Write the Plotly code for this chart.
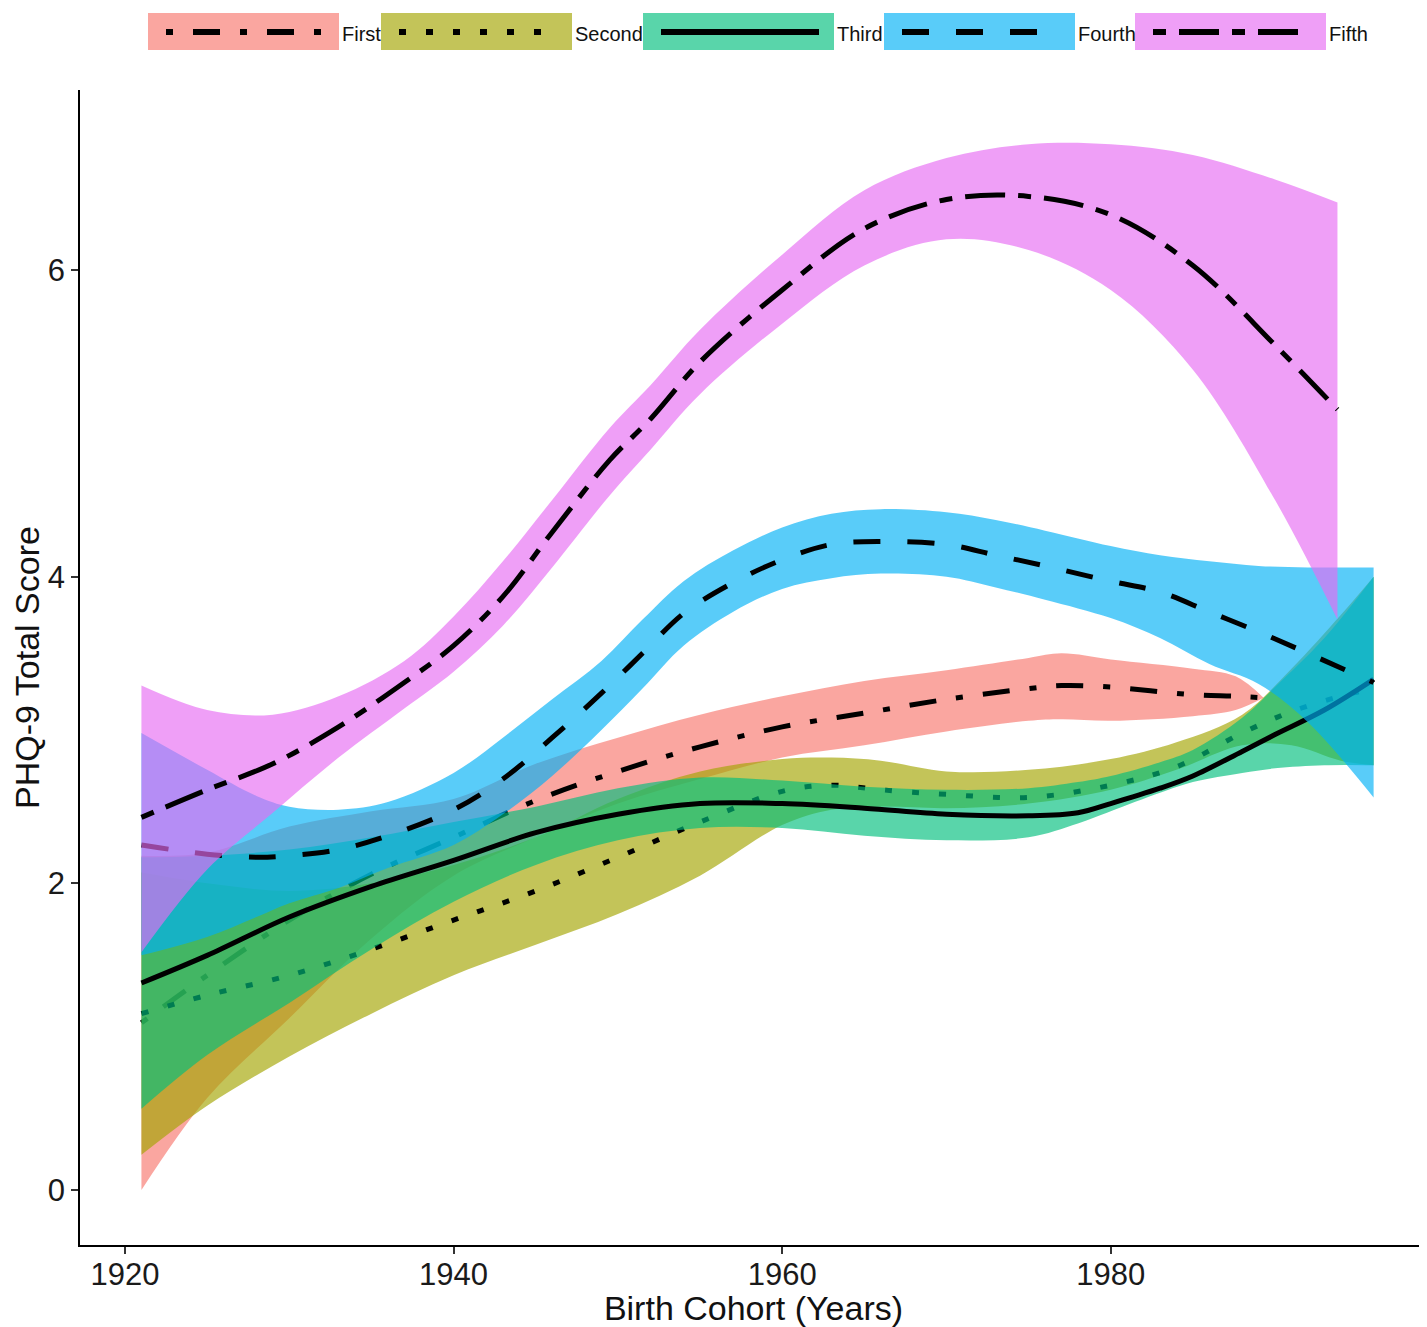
import plotly.graph_objects as go

# ---------------- data ----------------
first_years = [1921, 1925, 1930, 1935, 1940, 1945, 1950, 1955, 1960, 1965, 1970, 1975, 1977, 1980, 1985, 1987.6, 1989.3]
first_fit   = [1.09, 1.40, 1.76, 2.06, 2.30, 2.54, 2.73, 2.89, 3.02, 3.11, 3.20, 3.27, 3.29, 3.28, 3.23, 3.22, 3.21]
first_hi    = [2.18, 2.20, 2.37, 2.47, 2.55, 2.78, 2.95, 3.10, 3.22, 3.32, 3.39, 3.47, 3.50, 3.46, 3.40, 3.35, 3.21]
first_lo    = [0.00, 0.60, 1.12, 1.64, 2.05, 2.30, 2.52, 2.68, 2.82, 2.90, 2.99, 3.06, 3.07, 3.06, 3.09, 3.13, 3.21]

second_years = [1921, 1925, 1930, 1935, 1940, 1945, 1950, 1955, 1960, 1963, 1966, 1970, 1975, 1980, 1984, 1988, 1991, 1994, 1996]
second_fit   = [1.15, 1.27, 1.40, 1.57, 1.76, 1.95, 2.17, 2.40, 2.60, 2.64, 2.61, 2.58, 2.56, 2.64, 2.76, 2.98, 3.12, 3.22, 3.27]
second_hi    = [2.07, 2.00, 1.95, 2.00, 2.12, 2.30, 2.55, 2.73, 2.81, 2.82, 2.80, 2.73, 2.74, 2.81, 2.92, 3.10, 3.40, 3.75, 4.00]
second_lo    = [0.23, 0.55, 0.87, 1.15, 1.40, 1.60, 1.80, 2.05, 2.38, 2.48, 2.50, 2.49, 2.52, 2.61, 2.74, 2.90, 2.90, 2.80, 2.77]

third_years = [1921, 1925, 1930, 1935, 1940, 1945, 1950, 1955, 1960, 1965, 1970, 1975, 1978, 1980, 1983, 1985, 1988, 1990, 1993, 1996]
third_fit   = [1.35, 1.53, 1.78, 1.98, 2.15, 2.33, 2.45, 2.52, 2.52, 2.49, 2.45, 2.44, 2.46, 2.52, 2.62, 2.70, 2.86, 2.97, 3.13, 3.33]
third_hi    = [2.17, 2.18, 2.22, 2.30, 2.40, 2.50, 2.62, 2.69, 2.67, 2.63, 2.61, 2.62, 2.66, 2.70, 2.79, 2.87, 3.08, 3.28, 3.60, 4.00]
third_lo    = [0.53, 0.88, 1.22, 1.57, 1.88, 2.12, 2.28, 2.36, 2.36, 2.31, 2.28, 2.30, 2.39, 2.47, 2.59, 2.66, 2.72, 2.75, 2.77, 2.77]

fourth_years = [1921, 1925, 1928, 1930, 1933, 1936, 1940, 1943, 1946, 1949, 1951.5, 1954, 1957, 1960, 1963, 1966, 1970, 1973, 1976, 1980, 1983, 1986, 1989, 1992, 1996]
fourth_fit   = [2.25, 2.19, 2.17, 2.18, 2.22, 2.31, 2.48, 2.68, 2.95, 3.24, 3.50, 3.76, 3.96, 4.11, 4.21, 4.23, 4.21, 4.14, 4.07, 3.97, 3.90, 3.77, 3.64, 3.50, 3.31]
fourth_hi    = [2.98, 2.74, 2.57, 2.50, 2.48, 2.53, 2.72, 2.95, 3.20, 3.45, 3.72, 3.97, 4.17, 4.32, 4.41, 4.44, 4.42, 4.37, 4.30, 4.20, 4.14, 4.10, 4.07, 4.06, 4.06]
fourth_lo    = [1.53, 1.65, 1.78, 1.87, 1.97, 2.10, 2.25, 2.45, 2.70, 3.00, 3.27, 3.55, 3.77, 3.92, 3.99, 4.02, 4.00, 3.93, 3.85, 3.73, 3.60, 3.43, 3.30, 3.05, 2.56]

fifth_years = [1921, 1925, 1929, 1933, 1937, 1940, 1943, 1946, 1949.5, 1952, 1955, 1960, 1965, 1970, 1975, 1980, 1985, 1990, 1993.8]
fifth_fit   = [2.43, 2.61, 2.78, 3.02, 3.31, 3.55, 3.87, 4.29, 4.76, 5.03, 5.40, 5.87, 6.27, 6.46, 6.48, 6.36, 6.03, 5.51, 5.09]
fifth_hi    = [3.29, 3.13, 3.10, 3.22, 3.45, 3.74, 4.10, 4.50, 4.97, 5.25, 5.61, 6.10, 6.52, 6.73, 6.82, 6.82, 6.75, 6.59, 6.44]
fifth_lo    = [1.55, 2.09, 2.46, 2.82, 3.14, 3.38, 3.68, 4.06, 4.53, 4.83, 5.19, 5.65, 6.03, 6.20, 6.13, 5.87, 5.35, 4.50, 3.72]

group_names = ["First", "Second", "Third", "Fourth", "Fifth"]
x_ticks = [1920, 1940, 1960, 1980]
y_ticks = [0, 2, 4, 6]

# ---------------- styles ----------------
FONT = "Liberation Sans, Arial, sans-serif"
fills = ["rgba(248,118,109,0.65)", "rgba(163,165,0,0.65)", "rgba(0,191,125,0.65)",
         "rgba(0,176,246,0.65)", "rgba(231,107,243,0.65)"]
dashes = ["7px,20px,27px,20px", "7px,20px", "solid", "27px,27px", "13px,13px,40px,13px"]
LW = 5

series = [
    (first_years, first_fit, first_lo, first_hi),
    (second_years, second_fit, second_lo, second_hi),
    (third_years, third_fit, third_lo, third_hi),
    (fourth_years, fourth_fit, fourth_lo, fourth_hi),
    (fifth_years, fifth_fit, fifth_lo, fifth_hi),
]

fig = go.Figure()
for i, (xs, fit, lo, hi) in enumerate(series):
    fig.add_trace(go.Scatter(x=xs, y=lo, mode="lines",
                             line=dict(width=0, shape="spline", color=fills[i]),
                             showlegend=False, hoverinfo="skip"))
    fig.add_trace(go.Scatter(x=xs, y=hi, mode="lines", fill="tonexty", fillcolor=fills[i],
                             line=dict(width=0, shape="spline", color=fills[i]),
                             showlegend=False, hoverinfo="skip"))
    fig.add_trace(go.Scatter(x=xs, y=fit, mode="lines", name=group_names[i],
                             line=dict(color="black", width=LW, dash=dashes[i], shape="spline"),
                             showlegend=False))

# ---------------- layout geometry ----------------
OFF = 8  # default page margin around the figure
W, H = 1427 - OFF, 1327 - OFF
ML, MR = 80 - OFF, 0
MT = 90 - OFF
MB = H - (1245 - OFF)
PW, PH = W - ML - MR, H - MT - MB


def pxx(p):
    return (p - OFF - ML) / PW


def pxy(p):
    return (H - MB - (p - OFF)) / PH


# custom legend (wide keys as in the reference)
box_left = [148, 381, 643, 884, 1135]
box_w = 191
shapes = []
annotations = []
for i, name in enumerate(group_names):
    x0 = box_left[i]
    x1 = x0 + box_w
    shapes.append(dict(type="rect", xref="paper", yref="paper",
                       x0=pxx(x0), x1=pxx(x1), y0=pxy(50), y1=pxy(13),
                       fillcolor=fills[i], line=dict(width=0), layer="above"))
    shapes.append(dict(type="line", xref="paper", yref="paper",
                       x0=pxx(x0 + 18), x1=pxx(x1 - 15), y0=pxy(32), y1=pxy(32),
                       line=dict(color="black", width=LW + 1, dash=dashes[i]), layer="above"))
    annotations.append(dict(xref="paper", yref="paper", x=pxx(x1 + 1), y=pxy(34),
                            xanchor="left", yanchor="middle", showarrow=False, text=name,
                            font=dict(family=FONT, size=20, color="#111")))

fig.update_layout(
    width=W, height=H,
    margin=dict(l=ML, r=MR, t=MT, b=MB),
    paper_bgcolor="white", plot_bgcolor="white",
    font=dict(family=FONT, color="#111"),
    showlegend=False,
    shapes=shapes,
    annotations=annotations,
    xaxis=dict(range=[1917.26, 1999.25], tickvals=x_ticks, showgrid=False, zeroline=False,
               showline=True, linecolor="black", linewidth=1.6, mirror=False,
               ticks="outside", ticklen=7, tickwidth=1.5, tickcolor="#333",
               ticklabelstandoff=-6,
               tickfont=dict(family=FONT, size=31, color="#1a1a1a"),
               title=dict(text="Birth Cohort (Years)", standoff=10,
                          font=dict(family=FONT, size=34, color="#111"))),
    yaxis=dict(range=[-0.359, 7.174], tickvals=y_ticks, showgrid=False, zeroline=False,
               showline=True, linecolor="black", linewidth=1.6,
               ticks="outside", ticklen=7, tickwidth=1.5, tickcolor="#333",
               tickfont=dict(family=FONT, size=31, color="#1a1a1a"),
               title=dict(text="PHQ-9 Total Score", standoff=0,
                          font=dict(family=FONT, size=34, color="#111"))),
)

fig.write_html("out.html")
